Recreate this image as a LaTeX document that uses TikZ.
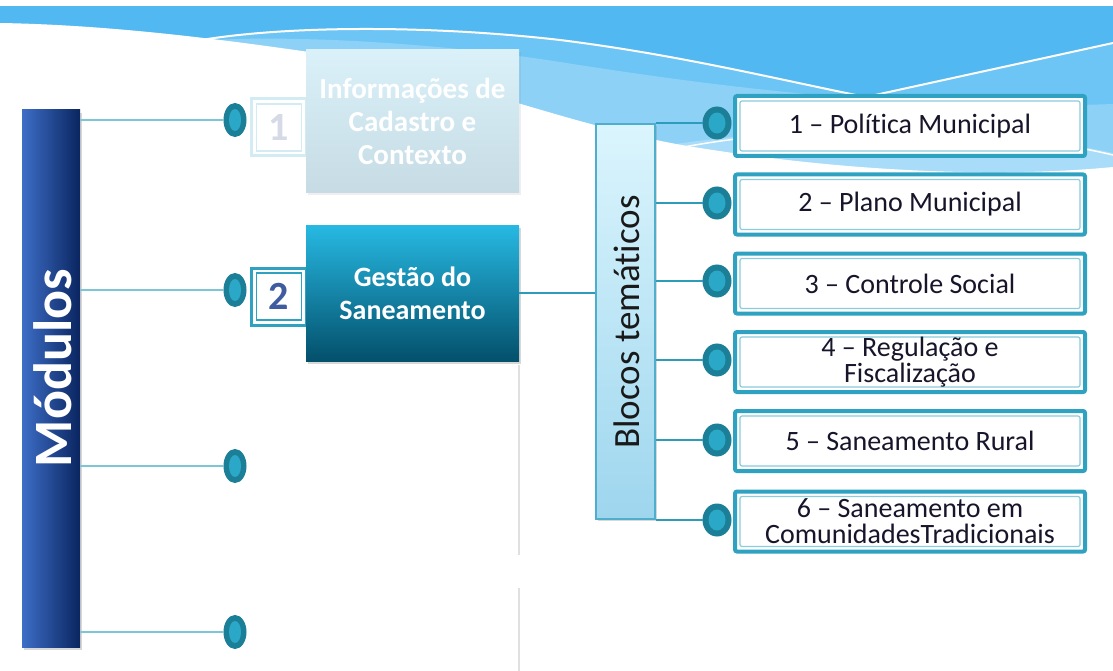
\documentclass[tikz,border=0pt]{standalone}
\usepackage{fontspec}
\setmainfont{Carlito}[Ligatures={TeX,NoCommon}]
\usetikzlibrary{shapes.geometric,shadows}
\definecolor{skyDark}{HTML}{52B8F1}
\definecolor{skyMid}{HTML}{6CC5F4}
\definecolor{skyLight}{HTML}{8ED1F7}
\definecolor{skyPale}{HTML}{A8DCF8}
\definecolor{dotOuter}{HTML}{1C7F98}
\definecolor{dotInner}{HTML}{2BA8C7}
\definecolor{boxBorder}{HTML}{2FA2C1}
\definecolor{boxInner}{HTML}{8ACCDD}
\definecolor{lineTeal}{HTML}{2D9CB9}
\definecolor{leftLine}{HTML}{7FC5D8}
\definecolor{modL}{HTML}{3D6EC6}
\definecolor{modR}{HTML}{0A2560}
\definecolor{gesT}{HTML}{27B9E3}
\definecolor{gesB}{HTML}{03506B}
\definecolor{bloT}{HTML}{DBF5FD}
\definecolor{bloB}{HTML}{9ED6EE}
\definecolor{bloBorder}{HTML}{4FAECB}
\definecolor{infT}{HTML}{DAF1F9}
\definecolor{infB}{HTML}{C6DBE4}
\definecolor{numTwo}{HTML}{3E5C9F}
\definecolor{numOne}{HTML}{D6DAE6}
\definecolor{faintBorder}{HTML}{D3EBF3}
\definecolor{txtDark}{HTML}{16152A}
\tikzset{
  innerframe/.style={path picture={\draw[line width=1.2pt,#1]
      ([xshift=5pt,yshift=-5pt]path picture bounding box.north west) rectangle
      ([xshift=-5pt,yshift=5pt]path picture bounding box.south east);}},
  rbox/.style={draw=boxBorder, line width=4pt, fill=white, rounded corners=2pt,
      minimum width=350pt, minimum height=60pt, align=center, inner sep=1pt,
      text=txtDark, font=\fontsize{28}{26}\selectfont, innerframe=boxInner,
      drop shadow={shadow xshift=1.5pt, shadow yshift=-1.5pt, opacity=0.25}},
  numbox/.style={draw=#1, line width=3pt, fill=white, minimum width=55pt,
      minimum height=57pt, inner sep=0pt, font=\bfseries\fontsize{40}{40}\selectfont, innerframe=#1},
  ldot/.style={ellipse, draw=dotOuter, line width=1pt, fill=dotOuter, minimum width=22pt,
      minimum height=33pt, inner sep=0pt,
      path picture={\fill[dotInner] (path picture bounding box.center) ellipse (6pt and 11pt);}},
  rdot/.style={ellipse, draw=dotOuter, line width=1pt, fill=dotOuter, minimum width=28pt,
      minimum height=32pt, inner sep=0pt,
      path picture={\fill[dotInner] (path picture bounding box.center) ellipse (8.5pt and 10.5pt);}},
  leftconn/.style={draw=leftLine, line width=2pt},
  rightconn/.style={draw=lineTeal, line width=2pt},
}
\begin{document}
\begin{tikzpicture}[x=1pt,y=-1pt]
\useasboundingbox (0,0) rectangle (1113,671);
% background waves
\fill[white] (0,0) rectangle (1113,671);
\fill[skyDark] (0,6) rectangle (1113,200);
\fill[skyMid] (190,42) .. controls (280,25) and (430,25) .. (560,40)
   .. controls (680,55) and (780,80) .. (866,97) -- (1113,43) -- (1113,200) -- (190,200) -- cycle;
\fill[skyLight] (190,42) .. controls (260,34) and (420,40) .. (560,62)
   .. controls (700,84) and (900,112) .. (1113,104) -- (1113,200) -- (190,200) -- cycle;
\fill[skyPale] (640,150) .. controls (800,120) and (1000,128) .. (1113,153) -- (1113,200) -- (640,200) -- cycle;
\draw[white, line width=2pt] (190,42) .. controls (280,25) and (430,25) .. (560,40)
   .. controls (680,55) and (780,80) .. (866,97) -- (1113,43);
\draw[white, line width=1.5pt] (660,152) .. controls (800,120) and (1000,128) .. (1113,155);
\fill[white] (0,23) .. controls (120,25) and (240,42) .. (330,55)
   .. controls (450,75) and (580,130) .. (700,148)
   .. controls (850,172) and (1000,178) .. (1113,167) -- (1113,671) -- (0,671) -- cycle;
% faint vertical rule
\draw[black!12, line width=2pt] (519,365) -- (519,555);
\draw[black!12, line width=2pt] (519,588) -- (519,671);

% Modulos bar
\node[draw=none, left color=modL, right color=modR, minimum width=58pt, minimum height=537pt,
      inner sep=0pt, drop shadow={shadow xshift=2pt, shadow yshift=-3pt, opacity=0.3}] (mod) at (51,378.5) {};
\node[rotate=90, text=white, font=\bfseries\fontsize{54}{54}\selectfont] (modlabel) at (53,368) {Módulos};

% left dots
\node[ldot] (d1) at (235,120) {};
\node[ldot] (d2) at (235,290) {};
\node[ldot] (d3) at (235,466) {};
\node[ldot] (d4) at (235,632) {};
\path[leftconn] (mod.east |- d1) -- (d1.west);
\path[leftconn] (mod.east |- d2) -- (d2.west);
\path[leftconn] (mod.east |- d3) -- (d3.west);
\path[leftconn] (mod.east |- d4) -- (d4.west);

% number boxes
\node[numbox=faintBorder, text=numOne] (n1) at (279,127.5) {1};
\node[numbox=boxBorder, text=numTwo] (n2) at (279,296.5) {2};

% module boxes
\node[top color=infT, bottom color=infB, minimum width=213pt, minimum height=143pt,
      align=center, text=white, font=\bfseries\fontsize{29}{33}\selectfont,
      drop shadow={shadow xshift=1.5pt, shadow yshift=-2pt, opacity=0.12}] (inf) at (412.5,121.5)
      {Informações de\\Cadastro e\\Contexto};
\node[top color=gesT, bottom color=gesB, minimum width=213pt, minimum height=136pt,
      align=center, text=white, font=\bfseries\fontsize{28}{33}\selectfont,
      drop shadow={shadow xshift=1.5pt, shadow yshift=-2.5pt, opacity=0.3}] (ges) at (412.5,293)
      {Gestão do\\Saneamento};

% Blocos
\node[draw=bloBorder, line width=1.5pt, top color=bloT, bottom color=bloB,
      minimum width=59pt, minimum height=395pt, inner sep=0pt,
      drop shadow={shadow xshift=2pt, shadow yshift=-2pt, opacity=0.3}] (blo) at (625.5,321.5) {};
\node[rotate=90, text=black!90, font=\fontsize{37}{37}\selectfont] (blolabel) at (627,322) {Blocos temáticos};
\path[rightconn] (ges.east) -- (blo.west |- ges.east);

% right boxes
\node[rbox] (b1) at (910,126) {1 – Política Municipal};
\node[rbox] (b2) at (910,204.5) {2 – Plano Municipal};
\node[rbox] (b3) at (910,283.5) {3 – Controle Social};
\node[rbox] (b4) at (910,362) {4 – Regulação e\\Fiscalização};
\node[rbox] (b5) at (910,441) {5 – Saneamento Rural};
\node[rbox] (b6) at (910,521.5) {6 – Saneamento em\\ComunidadesTradicionais};

% right dots
\node[rdot] (r1) at (717,123) {};
\node[rdot] (r2) at (717,203) {};
\node[rdot] (r3) at (717,281) {};
\node[rdot] (r4) at (717,360) {};
\node[rdot] (r5) at (717,440) {};
\node[rdot] (r6) at (717,520) {};
\path[rightconn] (blo.east |- r1) -- (r1.west);
\path[rightconn] (blo.east |- r2) -- (r2.west);
\path[rightconn] (blo.east |- r3) -- (r3.west);
\path[rightconn] (blo.east |- r4) -- (r4.west);
\path[rightconn] (blo.east |- r5) -- (r5.west);
\path[rightconn] (blo.east |- r6) -- (r6.west);
\end{tikzpicture}
\end{document}
